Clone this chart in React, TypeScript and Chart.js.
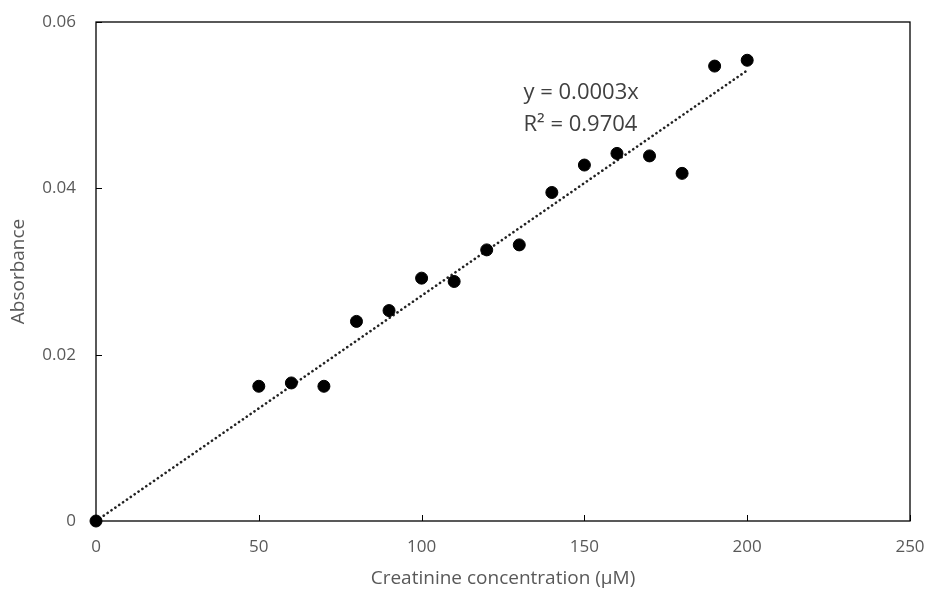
import React, { useEffect, useRef } from "react";
import { Chart, registerables } from "chart.js";

Chart.register(...registerables);

const concentrations = [0, 50, 60, 70, 80, 90, 100, 110, 120, 130, 140, 150, 160, 170, 180, 190, 200];
const absorbances = [0, 0.0162, 0.0166, 0.0162, 0.0240, 0.0253, 0.0292, 0.0288, 0.0326, 0.0332, 0.0395, 0.0428, 0.0442, 0.0439, 0.0418, 0.0547, 0.0554];
const xTicks = [0, 50, 100, 150, 200, 250];
const yTicks = [0, 0.02, 0.04, 0.06];
const equationLines = ["y = 0.0003x", "R² = 0.9704"];
const xTitle = "Creatinine concentration (μM)";
const yTitle = "Absorbance";

const FONT = "'Open Sans', 'Noto Sans', sans-serif";
const TEXT = "#595959";

export default function App() {
  const ref = useRef<HTMLCanvasElement | null>(null);
  useEffect(() => {
    document.body.style.margin = "0";
    const sxy = concentrations.reduce((s, x, i) => s + x * absorbances[i], 0);
    const sxx = concentrations.reduce((s, x) => s + x * x, 0);
    const slope = sxy / sxx;
    const xMax = Math.max(...concentrations);
    const trend = [
      { x: 0, y: 0 },
      { x: xMax, y: slope * xMax },
    ];

    const framePlugin = {
      id: "frame",
      beforeDatasetsDraw(chart: any) {
        const { ctx, chartArea: a, scales } = chart;
        const xs = scales.x, ys = scales.y;
        ctx.save();
        ctx.strokeStyle = "#000";
        ctx.lineWidth = 1.3;
        ctx.strokeRect(a.left, a.top, a.right - a.left, a.bottom - a.top);
        ctx.lineWidth = 1;
        ctx.beginPath();
        for (const t of xTicks) {
          const px = Math.round(xs.getPixelForValue(t)) + 0.5;
          ctx.moveTo(px, a.bottom);
          ctx.lineTo(px, a.bottom - 6);
        }
        for (const t of yTicks) {
          const py = Math.round(ys.getPixelForValue(t)) + 0.5;
          ctx.moveTo(a.left, py);
          ctx.lineTo(a.left + 6, py);
        }
        ctx.stroke();
        ctx.restore();
      },
      afterDatasetsDraw(chart: any) {
        const { ctx, scales } = chart;
        const xs = scales.x, ys = scales.y;
        ctx.save();
        ctx.fillStyle = "#404040";
        ctx.font = `22px ${FONT}`;
        ctx.textBaseline = "middle";
        ctx.textAlign = "left";
        const tx = xs.getPixelForValue(131.3);
        ctx.fillText(equationLines[0], tx, ys.getPixelForValue(0.0515));
        ctx.fillText(equationLines[1], tx, ys.getPixelForValue(0.0477));
        ctx.restore();
      },
    };

    const chart = new Chart(ref.current!, {
      type: "scatter",
      data: {
        datasets: [
          {
            type: "line",
            label: "Trend",
            data: trend,
            borderColor: "#222",
            borderWidth: 2.6,
            borderDash: [0.1, 4.6],
            borderCapStyle: "round",
            pointRadius: 0,
            fill: false,
            order: 2,
          } as any,
          {
            label: "Absorbance",
            data: concentrations.map((x, i) => ({ x, y: absorbances[i] })),
            backgroundColor: "#000",
            borderColor: "#000",
            pointRadius: 6,
            clip: false,
            order: 1,
          } as any,
        ],
      },
      options: {
        animation: false,
        responsive: false,
        layout: { padding: { left: 0, right: 19, top: 22, bottom: 0 } },
        plugins: { legend: { display: false }, tooltip: { enabled: false } },
        scales: {
          x: {
            type: "linear",
            min: 0,
            max: 250,
            afterBuildTicks: (s: any) => { s.ticks = xTicks.map((v) => ({ value: v })); },
            afterFit: (s: any) => { s.height = 73; s.paddingLeft = 0; s.paddingRight = 0; },
            grid: { display: false, drawTicks: false },
            border: { display: false },
            ticks: { color: TEXT, font: { family: FONT, size: 17 }, padding: 16 },
            title: { display: true, text: xTitle, color: TEXT, font: { family: FONT, size: 19 }, padding: { top: 9 } },
          },
          y: {
            type: "linear",
            min: 0,
            max: 0.06,
            afterBuildTicks: (s: any) => { s.ticks = yTicks.map((v) => ({ value: v })); },
            afterFit: (s: any) => { s.width = 96; s.paddingTop = 0; s.paddingBottom = 0; },
            grid: { display: false, drawTicks: false },
            border: { display: false },
            ticks: {
              color: TEXT,
              font: { family: FONT, size: 17 },
              padding: 20,
              callback: (v: any) => (v === 0 ? "0" : Number(v).toFixed(2)),
            },
            title: { display: true, text: yTitle, color: TEXT, font: { family: FONT, size: 19 }, padding: { top: 7, bottom: 4 } },
          },
        },
      },
      plugins: [framePlugin],
    });
    return () => chart.destroy();
  }, []);
  return (
    <div style={{ width: 929, height: 594, background: "#fff" }}>
      <canvas ref={ref} width={929} height={594} />
    </div>
  );
}
